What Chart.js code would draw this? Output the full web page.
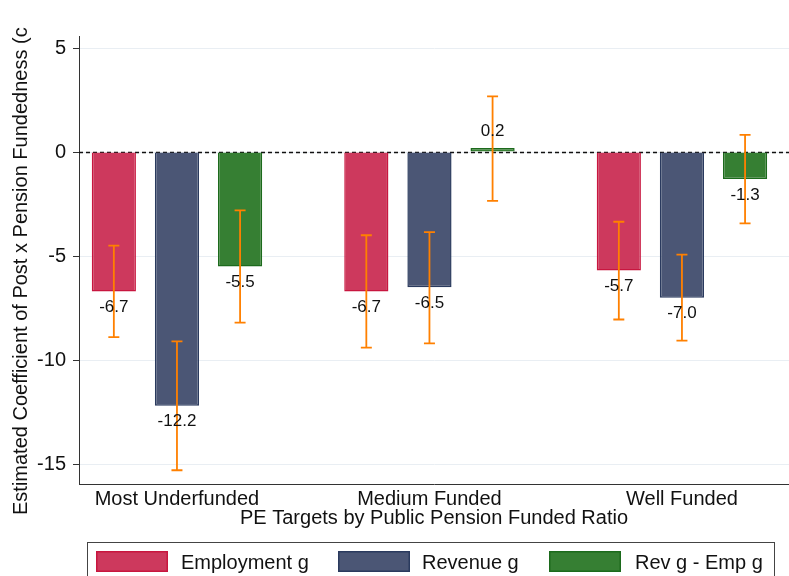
<!DOCTYPE html>
<html>
<head>
<meta charset="utf-8">
<script src="https://cdn.jsdelivr.net/npm/chart.js@4.4.1/dist/chart.umd.min.js"></script>
<style>
  html, body { margin: 0; padding: 0; background: #ffffff; }
  #wrap { width: 789px; height: 576px; position: relative; }
</style>
</head>
<body>
<div id="wrap"><canvas id="chart" width="789" height="576"></canvas></div>
<script>
// Funding groups on the x axis
const categories = ['Most Underfunded', 'Medium Funded', 'Well Funded'];
const categoryIndex = [0, 1, 2];

// Point estimates per group
const employment = [-6.7, -6.7, -5.7];
const revenue = [-12.2, -6.5, -7.0];
const revMinusEmp = [-5.5, 0.2, -1.3];

// Confidence interval bounds
const employmentLow = [-8.9, -9.4, -8.05];
const employmentHigh = [-4.5, -4.0, -3.35];
const revenueLow = [-15.3, -9.2, -9.07];
const revenueHigh = [-9.1, -3.85, -4.93];
const diffLow = [-8.2, -2.35, -3.43];
const diffHigh = [-2.8, 2.68, 0.83];

// Y axis tick values
const yTicks = [5, 0, -5, -10, -15];

const seriesNames = ['Employment g', 'Revenue g', 'Rev g - Emp g'];
const fills = ['#cd395d', '#4b5675', '#367f33'];
const borders = ['#c8163f', '#2a3a5e', '#1c6a1c'];
const lows = [employmentLow, revenueLow, diffLow];
const highs = [employmentHigh, revenueHigh, diffHigh];
const values = [employment, revenue, revMinusEmp];

const FONT = '"Liberation Sans", Arial, Helvetica, sans-serif';

const datasets = values.map((vals, i) => ({
  label: seriesNames[i],
  data: categoryIndex.map((c, k) => ({ x: c, y: vals[k] })),
  backgroundColor: fills[i],
  borderColor: borders[i],
  borderWidth: 1.5,
  categoryPercentage: 0.75,
  barPercentage: 0.7,
  low: lows[i],
  high: highs[i]
}));

// Dashed reference line at zero, behind the bars
const zeroLine = {
  id: 'zeroLine',
  beforeDatasetsDraw(chart) {
    const { ctx, chartArea, scales: { y } } = chart;
    const py = Math.round(y.getPixelForValue(0)) + 0.5;
    ctx.save();
    ctx.strokeStyle = '#111';
    ctx.lineWidth = 1.4;
    ctx.setLineDash([4, 3]);
    ctx.beginPath();
    ctx.moveTo(chartArea.left, py);
    ctx.lineTo(chartArea.right, py);
    ctx.stroke();
    ctx.restore();
  }
};

// Confidence-interval whiskers and value labels
const whiskers = {
  id: 'whiskers',
  afterDatasetsDraw(chart) {
    const { ctx, scales: { y } } = chart;
    ctx.save();
    chart.data.datasets.forEach((ds, i) => {
      const meta = chart.getDatasetMeta(i);
      meta.data.forEach((bar, k) => {
        const x = bar.x;
        const yLo = y.getPixelForValue(ds.low[k]);
        const yHi = y.getPixelForValue(ds.high[k]);
        ctx.strokeStyle = '#ff8000';
        ctx.lineWidth = 1.8;
        ctx.setLineDash([]);
        ctx.beginPath();
        ctx.moveTo(x, yLo); ctx.lineTo(x, yHi);
        ctx.moveTo(x - 5.5, yLo); ctx.lineTo(x + 5.5, yLo);
        ctx.moveTo(x - 5.5, yHi); ctx.lineTo(x + 5.5, yHi);
        ctx.stroke();
      });
    });
    chart.data.datasets.forEach((ds, i) => {
      const meta = chart.getDatasetMeta(i);
      meta.data.forEach((bar, k) => {
        const v = ds.data[k].y;
        const end = y.getPixelForValue(v);
        const ty = v < 0 ? end + 16 : end - 17;
        ctx.fillStyle = '#111';
        ctx.font = '17px ' + FONT;
        ctx.textAlign = 'center';
        ctx.textBaseline = 'middle';
        ctx.fillText(v.toFixed(1), bar.x, ty);
      });
    });
    ctx.restore();
  }
};

// Boxed legend below the x axis title, plus the rotated y axis title
const extras = {
  id: 'extras',
  afterDraw(chart) {
    const { ctx } = chart;
    ctx.save();
    ctx.strokeStyle = '#444';
    ctx.lineWidth = 1;
    ctx.strokeRect(87.5, 542.5, 687, 60);
    const swatchX = [96, 338, 549];
    const textX = [181, 422, 635];
    chart.data.datasets.forEach((ds, i) => {
      ctx.fillStyle = ds.backgroundColor;
      ctx.fillRect(swatchX[i], 551, 72, 21);
      ctx.strokeStyle = ds.borderColor;
      ctx.lineWidth = 1.5;
      ctx.strokeRect(swatchX[i] + 0.75, 551.75, 70.5, 19.5);
      ctx.fillStyle = '#111';
      ctx.font = '20px ' + FONT;
      ctx.textAlign = 'left';
      ctx.textBaseline = 'middle';
      ctx.fillText(ds.label, textX[i], 563);
    });

    ctx.translate(21, 515);
    ctx.rotate(-Math.PI / 2);
    ctx.fillStyle = '#111';
    ctx.font = '20px ' + FONT;
    ctx.textAlign = 'left';
    ctx.textBaseline = 'middle';
    ctx.fillText('Estimated Coefficient of Post x Pension Fundedness (c', 0, 0);
    ctx.restore();
  }
};

new Chart(document.getElementById('chart'), {
  type: 'bar',
  data: { datasets },
  plugins: [zeroLine, whiskers, extras],
  options: {
    responsive: false,
    animation: false,
    layout: { padding: { left: 0, right: 0, top: 36, bottom: 46 } },
    plugins: {
      legend: { display: false },
      tooltip: { enabled: false }
    },
    scales: {
      x: {
        type: 'linear',
        offset: false,
        min: -0.388,
        max: 2.424,
        afterBuildTicks(scale) { scale.ticks = categoryIndex.map(v => ({ value: v })); },
        afterFit(scale) { scale.height = 46; },
        grid: { display: false, drawTicks: false },
        border: { display: true, color: '#333', width: 1 },
        ticks: {
          padding: 3,
          color: '#111',
          font: { family: FONT, size: 20 },
          maxRotation: 0,
          autoSkip: false,
          callback: v => categories[v] ?? ''
        },
        title: {
          display: true,
          text: 'PE Targets by Public Pension Funded Ratio',
          color: '#111',
          font: { family: FONT, size: 20 },
          padding: { top: 0, bottom: 0 }
        }
      },
      y: {
        type: 'linear',
        min: -15.96,
        max: 5.58,
        afterBuildTicks(scale) { scale.ticks = yTicks.map(v => ({ value: v })); },
        afterFit(scale) { scale.width = 79; },
        grid: {
          color: '#e9eef3',
          lineWidth: 1,
          drawTicks: true,
          tickLength: 6,
          tickColor: '#333'
        },
        border: { display: true, color: '#333', width: 1 },
        ticks: {
          padding: 7,
          color: '#111',
          font: { family: FONT, size: 20 }
        }
      }
    }
  }
});
</script>
</body>
</html>
